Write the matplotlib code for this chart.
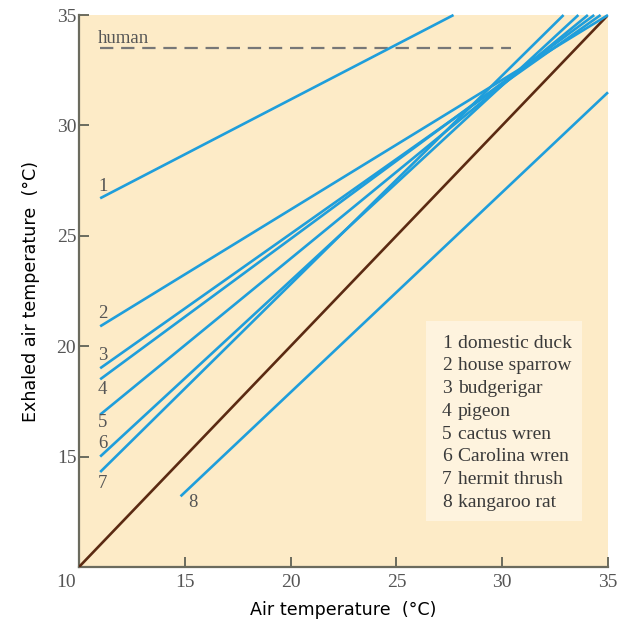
"""Exhaled air temperature vs. air temperature for several birds and the kangaroo rat.

Output: out.png
"""

import matplotlib
matplotlib.use("Agg")
import matplotlib.pyplot as plt
from matplotlib.transforms import ScaledTranslation

# --- data --------------------------------------------------------------------
species = ["domestic duck", "house sparrow", "budgerigar", "pigeon",
           "cactus wren", "Carolina wren", "hermit thrush", "kangaroo rat"]
start_x = [11.0, 11.0, 11.0, 11.0, 11.0, 11.0, 11.0, 14.8]
start_y = [26.7, 20.9, 19.0, 18.5, 16.9, 15.0, 14.3, 13.2]
end_x = [27.7, 35.0, 34.65, 34.35, 34.05, 33.6, 32.9, 35.0]
end_y = [35.0, 35.0, 35.0, 35.0, 35.0, 35.0, 35.0, 31.5]

human_y = 33.5
human_x = [11.0, 30.4]

ticks = [10, 15, 20, 25, 30, 35]

BG = "#FDEBC7"
BLUE = "#1F9EDB"
BROWN = "#5B2A12"
GREY_TXT = "#555555"
SERIF = "Liberation Serif"


def main() -> None:
    fig = plt.figure(figsize=(6.29, 6.21), dpi=100)
    ax = fig.add_axes([0.1256, 0.0870, 0.8410, 0.8888])
    ax.set_facecolor(BG)
    ax.set_xlim(10, 35)
    ax.set_ylim(10, 35)

    # identity line (exhaled = ambient)
    ax.plot([10, 35], [10, 35], color=BROWN, lw=1.9, solid_capstyle="butt", zorder=3)

    # human reference
    ax.plot(human_x, [human_y, human_y], color="#777777", lw=1.6,
            dashes=(6, 3.5), zorder=2)
    ax.text(10.9, 33.95, "human", family=SERIF, fontsize=13.5,
            color=GREY_TXT, ha="left", va="center")

    for i in range(len(species)):
        ax.plot([start_x[i], end_x[i]], [start_y[i], end_y[i]], color=BLUE,
                lw=1.9, solid_capstyle="butt", zorder=4, clip_on=False)

    # numbers next to line starts
    num_pos = [(10.9, 27.25), (10.9, 21.5), (10.9, 19.6), (10.9, 18.05),
               (10.9, 16.55), (10.9, 15.6), (10.9, 13.8), (15.15, 12.9)]
    for i, (x, y) in enumerate(num_pos):
        ax.text(x, y, str(i + 1), family=SERIF, fontsize=13.5, color=GREY_TXT,
                ha="left", va="center", zorder=5)

    # key box
    ax.add_patch(plt.Rectangle((26.4, 12.1), 7.35, 9.05, facecolor="#FEF3DE",
                               edgecolor="none", zorder=1))
    for i, name in enumerate(species):
        y = 20.14 - i * 1.03
        ax.text(27.15, y, str(i + 1), family=SERIF, fontsize=14, color="#3a3a3a",
                ha="left", va="center", zorder=5)
        ax.text(27.9, y, name, family=SERIF, fontsize=14, color="#3a3a3a",
                ha="left", va="center", zorder=5)

    ax.set_xticks(ticks)
    ax.set_yticks(ticks)
    ax.set_xticklabels([str(t) for t in ticks], family=SERIF, fontsize=14,
                       color=GREY_TXT)
    ax.set_yticklabels([""] + [str(t) for t in ticks[1:]], family=SERIF,
                       fontsize=14, color=GREY_TXT)
    ax.tick_params(axis="both", direction="in", length=7, width=1.4,
                   color="#6b6b5e")
    ax.tick_params(axis="x", pad=5)
    ax.tick_params(axis="y", pad=2)
    # the shared corner "10" sits left of the origin
    corner = ax.get_xticklabels()[0]
    corner.set_transform(corner.get_transform()
                         + ScaledTranslation(-0.13, 0, fig.dpi_scale_trans))

    for side in ("top", "right"):
        ax.spines[side].set_visible(False)
    for side in ("left", "bottom"):
        ax.spines[side].set_color("#6b6b5e")
        ax.spines[side].set_linewidth(1.6)

    ax.set_xlabel("Air temperature  (°C)", fontsize=12.6, color="black", labelpad=7)
    ax.set_ylabel("Exhaled air temperature  (°C)", fontsize=12.6, color="black",
                  labelpad=12)

    fig.savefig("out.png", dpi=100, facecolor="white")
    plt.close(fig)


if __name__ == "__main__":
    main()
